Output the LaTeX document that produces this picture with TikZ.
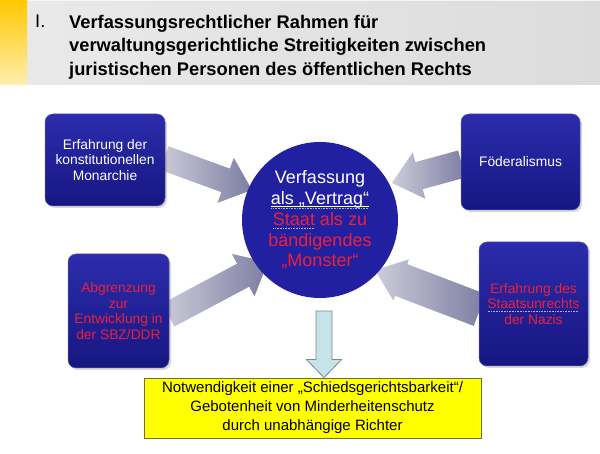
\documentclass[tikz,border=0pt]{standalone}
\usepackage{fontspec}
\setmainfont{Liberation Sans}
\usetikzlibrary{calc,shadows}
\pgfdeclarelayer{bg}
\pgfsetlayers{bg,main}
\definecolor{boxtop}{RGB}{44,44,172}
\definecolor{boxbot}{RGB}{22,22,130}
\definecolor{circ}{RGB}{32,32,160}
\definecolor{redtxt}{RGB}{235,32,60}
\definecolor{arrtail}{RGB}{204,204,218}
\definecolor{arrhead}{RGB}{125,125,162}
\definecolor{ylw}{RGB}{255,255,0}
\definecolor{ylwborder}{RGB}{110,110,60}
\definecolor{downfill}{RGB}{196,228,234}
\definecolor{downborder}{RGB}{125,135,140}
\definecolor{hdrL}{RGB}{234,234,234}
\definecolor{hdrR}{RGB}{220,220,220}
\definecolor{barT}{RGB}{255,200,0}
\definecolor{barB}{RGB}{255,238,175}
\definecolor{spell}{RGB}{175,175,225}

\newcommand\spellmark[1]{\setbox0\hbox{#1}\leavevmode\rlap{\raisebox{-3pt}{\textcolor{spell}{\hbox to\wd0{\leaders\hbox to 1.6pt{\hss\rule{0.8pt}{0.8pt}\hss}\hfill}}}}\box0\relax}
\newcommand\whiteul[1]{\setbox0\hbox{#1}\leavevmode\rlap{\raisebox{-2.2pt}{\rule{\wd0}{0.9pt}}}\rlap{\raisebox{-4.5pt}{\textcolor{spell}{\hbox to\wd0{\leaders\hbox to 1.6pt{\hss\rule{0.7pt}{0.7pt}\hss}\hfill}}}}\box0\relax}

\newcommand\blockarr[4]{% from #1 to #2, shaft half width #3, head half width #4
  \path let \p1=(#1), \p2=(#2) in \pgfextra{%
    \pgfmathsetmacro\barang{atan2(\y2-\y1,\x2-\x1)}%
    \pgfmathsetmacro\barlen{veclen(\x2-\x1,\y2-\y1)}%
    \global\let\barang\barang \global\let\barlen\barlen};
  \begin{scope}[shift={(#1)}, rotate=\barang]
    \shade[left color=arrtail, right color=arrhead]
      (0pt,-#3pt) -- ({\barlen pt-28pt},-#3pt) -- ({\barlen pt-28pt},-#4pt)
      -- (\barlen pt,0pt) -- ({\barlen pt-28pt},#4pt) -- ({\barlen pt-28pt},#3pt)
      -- (0pt,#3pt) -- cycle;
  \end{scope}}

\begin{document}
\begin{tikzpicture}[x=1pt,y=-1pt,
  boxst/.style={rectangle, rounded corners=8pt, top color=boxtop, bottom color=boxbot,
    draw=boxbot!70!white, line width=0.5pt, text=white, align=center, inner sep=2pt,
    font=\fontsize{13.8}{15.5}\selectfont,
    drop shadow={opacity=0.3, shadow xshift=2pt, shadow yshift=-2pt}},
  ]
\useasboundingbox (0,0) rectangle (600,454);
\begin{pgfonlayer}{bg}
\fill[white] (0,0) rectangle (600,454);
% header
\shade[left color=hdrL, right color=hdrR] (0,0) rectangle (600,85);
\draw[white!70!hdrR, line width=1pt] (0,1) -- (600,1);
\shade[top color=barT, bottom color=barB] (0,0) rectangle (27,85);
\end{pgfonlayer}
\node[anchor=north west, inner sep=0pt, font=\fontsize{18.3}{23.5}\selectfont] (num) at (35,15) {I.};
\node[anchor=north west, inner sep=0pt, align=left, font=\bfseries\fontsize{18.3}{23.5}\selectfont] (title) at (69,15)
  {Verfassungsrechtlicher Rahmen für\\verwaltungsgerichtliche Streitigkeiten zwischen\\juristischen Personen des öffentlichen Rechts};

% nodes
\node[boxst, minimum width=120pt, minimum height=92pt] (b1) at (105,160) {Erfahrung der\\konstitutionellen\\Monarchie};
\node[boxst, minimum width=119pt, minimum height=96pt] (b2) at (520.5,162) {Föderalismus};
\node[boxst, minimum width=109pt, minimum height=124pt, text=redtxt] (b3) at (533.5,304) {Erfahrung des\\\spellmark{Staatsunrechts}\\der Nazis};
\node[boxst, minimum width=101pt, minimum height=114pt, text=redtxt] (b4) at (118.5,311) {Abgrenzung\\zur\\Entwicklung in\\der SBZ/DDR};

% circle
\node[circle, minimum size=156pt, inner sep=0pt, fill=circ, text=white, align=center,
  font=\fontsize{18}{20.7}\selectfont] (c) at (320,220)
  {Verfassung\\\whiteul{als „Vertrag“}\\\textcolor{redtxt}{\spellmark{Staat} als zu}\\\textcolor{redtxt}{bändigendes}\\\textcolor{redtxt}{„Monster“}};

% arrows (behind)
\coordinate (t1) at (252,190);
\coordinate (t2) at (392,183);
\coordinate (t3) at (375,270);
\coordinate (t4) at (268,262);
\coordinate (s1) at ($(b1.east)+(-1,-2)$);
\coordinate (s2) at ($(b2.west)+(1,2)$);
\coordinate (s3) at ($(b3.west)+(1,6)$);
\coordinate (s4) at ($(b4.east)+(-1,4)$);
\begin{pgfonlayer}{bg}
\blockarr{s1}{t1}{12.5}{24}
\blockarr{s2}{t2}{14}{24}
\blockarr{s3}{t3}{17}{22}
\blockarr{s4}{t4}{13}{24}
\end{pgfonlayer}

% result box
\node[draw=ylwborder, fill=ylw, line width=0.8pt, minimum width=337pt, minimum height=60pt,
  align=center, font=\fontsize{15}{19}\selectfont] (y) at (312.5,408)
  {Notwendigkeit einer „Schiedsgerichtsbarkeit“/\\Gebotenheit von Minderheitenschutz\\durch unabhängige Richter};

% down arrow
\coordinate (dtop) at (324,311);
\draw[fill=downfill, draw=downborder, line width=0.8pt, line join=miter]
  let \p1=(dtop), \p2=(y.north) in
  (\x1-8pt,\y1) -- (\x1+8pt,\y1) -- (\x1+8pt,\y2+18pt) -- (\x1+17.5pt,\y2+18pt)
  -- (\x1,\y2) -- (\x1-17.5pt,\y2+18pt) -- (\x1-8pt,\y2+18pt) -- cycle;
\end{tikzpicture}
\end{document}
